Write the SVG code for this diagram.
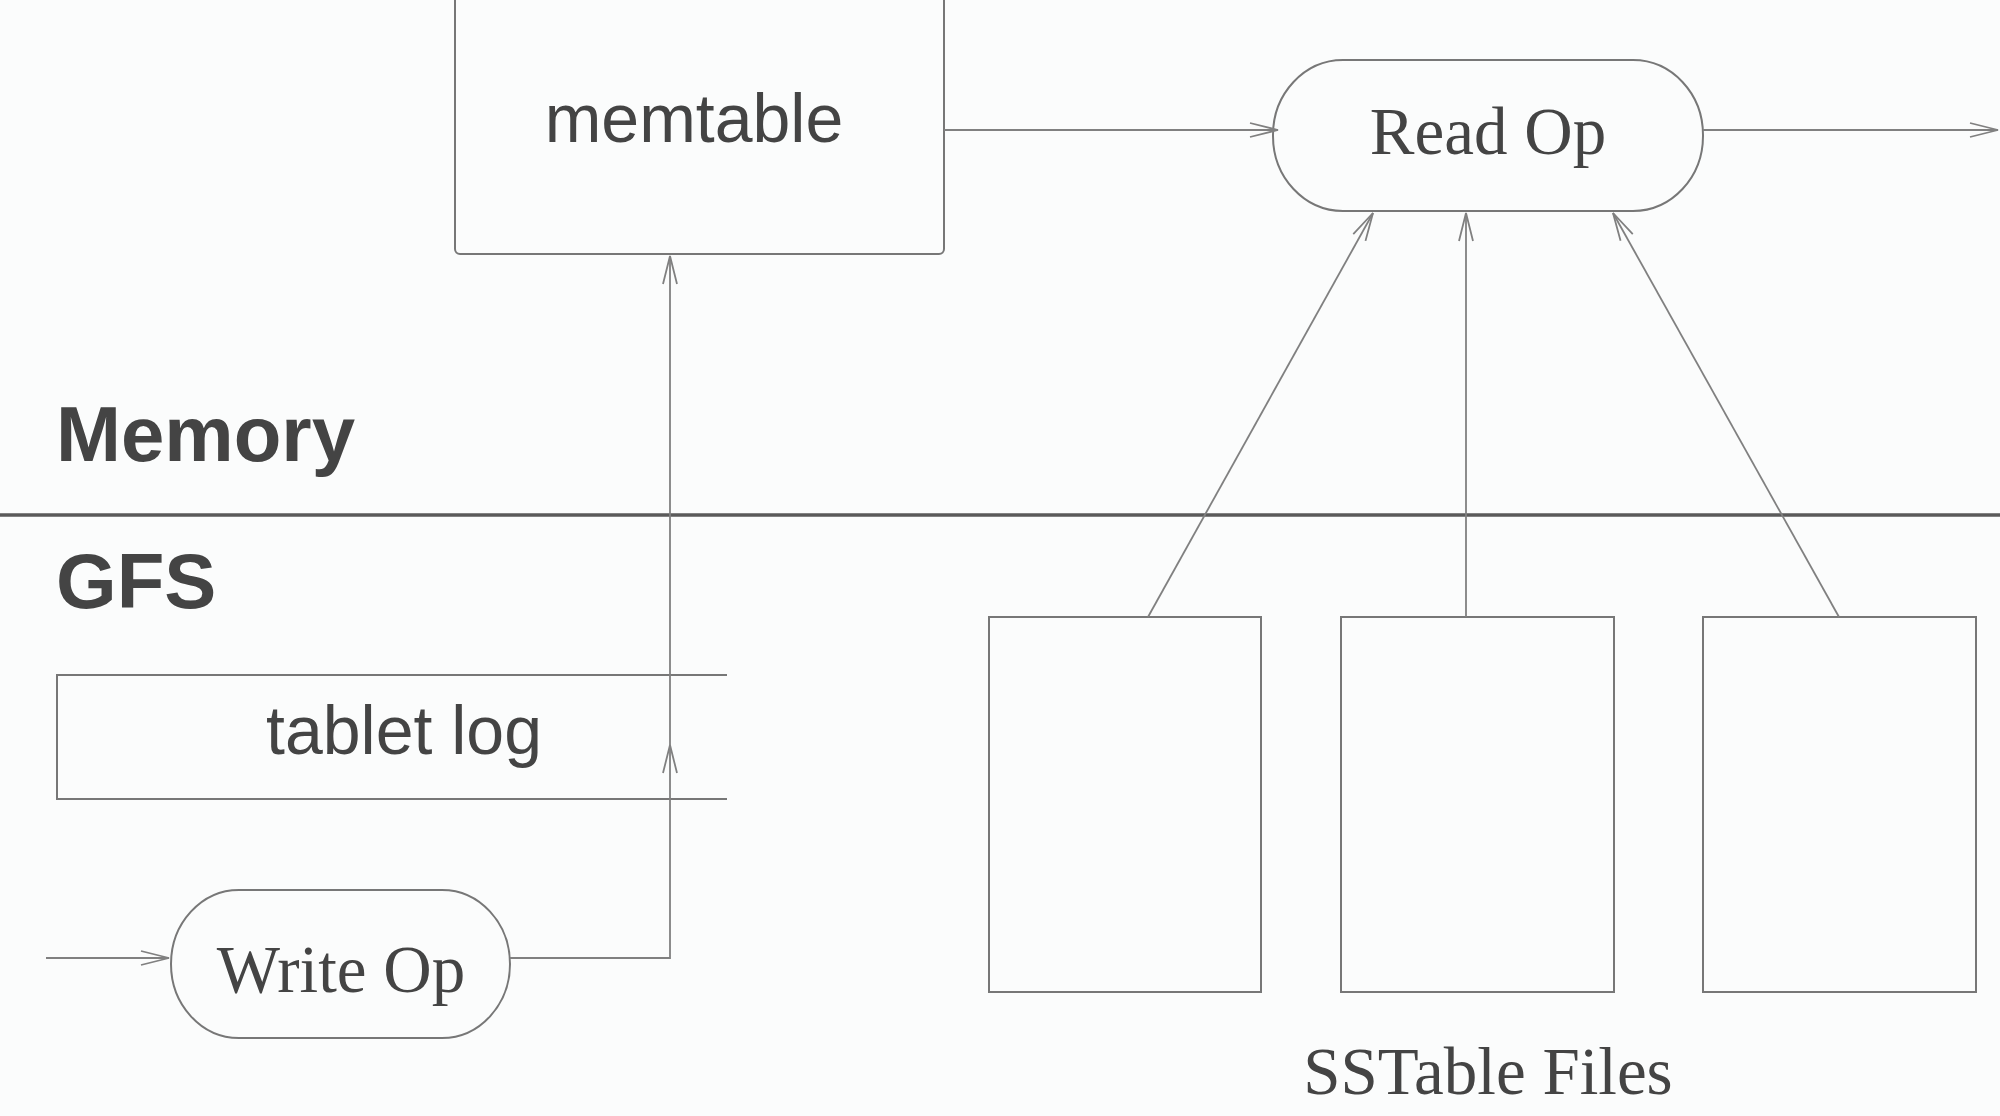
<svg xmlns="http://www.w3.org/2000/svg" width="2000" height="1116" viewBox="0 0 2000 1116">
<style>
.shape{fill:none;stroke:#777;stroke-width:2}
.conn{fill:none;stroke:#808080;stroke-width:1.8}
.sans{font-family:"Liberation Sans",Arial,sans-serif;fill:#444}
.serif{font-family:"Liberation Serif","Times New Roman",serif;fill:#444}
.bold{font-family:"Liberation Sans",Arial,sans-serif;font-weight:bold;fill:#444}
</style>
<defs>
<marker id="arr" markerUnits="userSpaceOnUse" markerWidth="32" markerHeight="18" refX="29" refY="8" orient="auto">
<path d="M1,1 L29,8 L1,15" fill="none" stroke="#808080" stroke-width="1.8"/>
</marker>
</defs>
<rect width="2000" height="1116" fill="#fbfcfc"/>
<line x1="0" y1="515" x2="2000" y2="515" stroke="#5a5a5a" stroke-width="3.5"/>
<text class="bold" x="56" y="461" font-size="78">Memory</text>
<text class="bold" x="56" y="608" font-size="78">GFS</text>
<g id="memtable">
<rect class="shape" x="455" y="-10" width="489" height="264" rx="5"/>
<text class="sans" x="694" y="142" font-size="68" text-anchor="middle">memtable</text>
</g>
<g id="readop">
<rect class="shape" x="1273" y="60" width="430" height="151" rx="70" ry="75"/>
<text class="serif" x="1488" y="154" font-size="67" text-anchor="middle">Read Op</text>
</g>
<g id="tabletlog">
<path class="shape" d="M727,675 H57 V799 H727"/>
<text class="sans" x="404" y="754" font-size="68" text-anchor="middle">tablet log</text>
</g>
<g id="writeop">
<rect class="shape" x="171" y="890" width="339" height="148" rx="68" ry="74"/>
<text class="serif" x="341" y="992" font-size="67" text-anchor="middle">Write Op</text>
</g>
<g id="sstables">
<rect class="shape" x="989" y="617" width="272" height="375"/>
<rect class="shape" x="1341" y="617" width="273" height="375"/>
<rect class="shape" x="1703" y="617" width="273" height="375"/>
<text class="serif" x="1488" y="1094" font-size="67" text-anchor="middle">SSTable Files</text>
</g>
<g id="connectors">
<path class="conn" d="M944,130 H1278" marker-end="url(#arr)"/>
<path class="conn" d="M1703,130 H1998" marker-end="url(#arr)"/>
<path class="conn" d="M1148,617 L1373,213" marker-end="url(#arr)"/>
<path class="conn" d="M1466,617 V213" marker-end="url(#arr)"/>
<path class="conn" d="M1839,617 L1613,213" marker-end="url(#arr)"/>
<path class="conn" d="M46,958 H169" marker-end="url(#arr)"/>
<path class="conn" d="M510,958 H670 V745" marker-end="url(#arr)"/>
<path class="conn" d="M670,745 V256" marker-end="url(#arr)"/>
</g>
</svg>
